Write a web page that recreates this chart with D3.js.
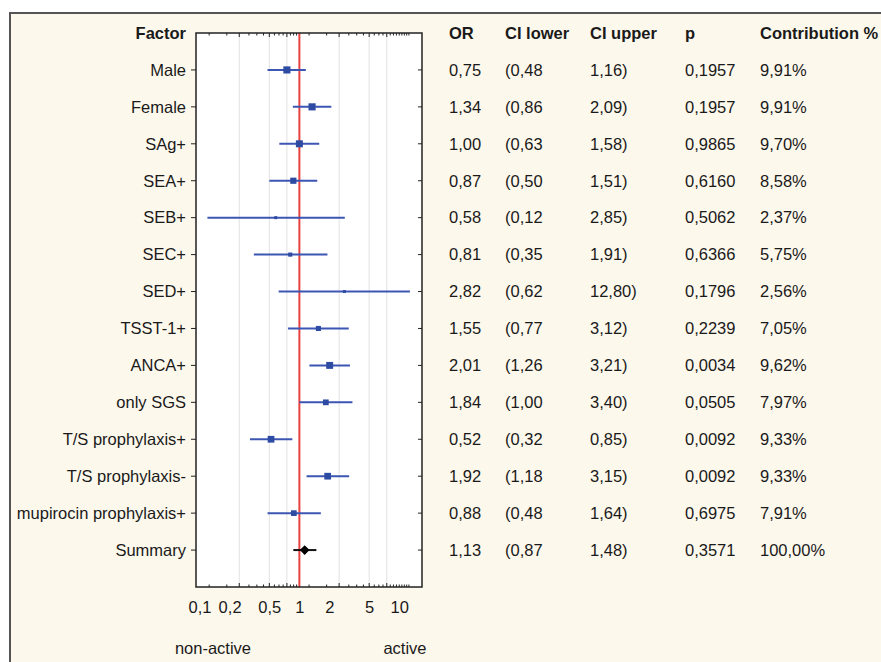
<!DOCTYPE html>
<html>
<head>
<meta charset="utf-8">
<title>Forest plot</title>
<style>
body { margin: 0; background: #fff; }
text { font-family: "Liberation Sans", Arial, sans-serif; font-size: 16.5px; fill: #1a1a1a; }
text.head { font-weight: bold; }
.grid line { stroke: #e2e2e2; stroke-width: 1; }
</style>
</head>
<body>
<svg id="chart" width="881" height="662"></svg>
<script src="https://cdn.jsdelivr.net/npm/d3@7"></script>
<script>

var factors = ["Male", "Female", "SAg+", "SEA+", "SEB+", "SEC+", "SED+", "TSST-1+", "ANCA+",
  "only SGS", "T/S prophylaxis+", "T/S prophylaxis-", "mupirocin prophylaxis+", "Summary"];
var oddsRatio = [0.75, 1.34, 1.00, 0.87, 0.58, 0.81, 2.82, 1.55, 2.01, 1.84, 0.52, 1.92, 0.88, 1.13];
var ciLower = [0.48, 0.86, 0.63, 0.50, 0.12, 0.35, 0.62, 0.77, 1.26, 1.00, 0.32, 1.18, 0.48, 0.87];
var ciUpper = [1.16, 2.09, 1.58, 1.51, 2.85, 1.91, 12.80, 3.12, 3.21, 3.40, 0.85, 3.15, 1.64, 1.48];
var pValues = [0.1957, 0.1957, 0.9865, 0.6160, 0.5062, 0.6366, 0.1796, 0.2239, 0.0034, 0.0505,
  0.0092, 0.0092, 0.6975, 0.3571];
var contribution = [9.91, 9.91, 9.70, 8.58, 2.37, 5.75, 2.56, 7.05, 9.62, 7.97, 9.33, 9.33, 7.91, 100.00];

var axisTicks = [0.1, 0.2, 0.5, 1, 2, 5, 10];
var gridValues = [0.25, 0.5, 0.75, 2.5, 5, 7.5];
var columnHeads = ["OR", "CI lower", "CI upper", "p", "Contribution %"];

var svg = d3.select("#chart");
var loc = d3.formatLocale({decimal: ",", thousands: " ", grouping: [3], currency: ["", ""]});
var f2 = loc.format(".2f"), f4 = loc.format(".4f");

// cream panel with a dark frame on top and left
svg.append("rect").attr("x", 10).attr("y", 13).attr("width", 871).attr("height", 649)
  .attr("fill", "#fdf8ec");
svg.append("path").attr("d", "M10,662V13H881").attr("fill", "none")
  .attr("stroke", "#555").attr("stroke-width", 2);

var plot = {left: 196, right: 422, top: 33, bottom: 587};

var x = d3.scaleLog().domain([0.0922, 16.9]).range([plot.left, plot.right]);
var rows = ["Factor"].concat(factors, [""]);
var y = d3.scalePoint().domain(rows).range([plot.top, plot.bottom]);

svg.append("rect").attr("x", plot.left).attr("y", plot.top)
  .attr("width", plot.right - plot.left).attr("height", plot.bottom - plot.top)
  .attr("fill", "#fff");

svg.append("g").attr("class", "grid").selectAll("line").data(gridValues).join("line")
  .attr("x1", d => x(d)).attr("x2", d => x(d))
  .attr("y1", plot.top).attr("y2", plot.bottom);

// minor ticks, statistica style steps
var minor = d3.range(2, 16).map(k => k * 0.0625).concat(d3.range(2, 21).map(k => k * 0.625));
var tk = svg.append("g").attr("stroke", "#222").attr("stroke-width", 1);
minor.forEach(function (v) {
  var len = gridValues.indexOf(v) >= 0 || v === 0.25 ? 4 : 2.5;
  tk.append("line").attr("x1", x(v)).attr("x2", x(v)).attr("y1", plot.top).attr("y2", plot.top + len);
  tk.append("line").attr("x1", x(v)).attr("x2", x(v)).attr("y1", plot.bottom).attr("y2", plot.bottom - len);
});
factors.forEach(function (f) {
  tk.append("line").attr("x1", plot.left - 5).attr("x2", plot.left).attr("y1", y(f)).attr("y2", y(f));
  tk.append("line").attr("x1", plot.right - 4).attr("x2", plot.right).attr("y1", y(f)).attr("y2", y(f));
});

// reference line at OR = 1
svg.append("line").attr("x1", x(1)).attr("x2", x(1)).attr("y1", plot.top).attr("y2", plot.bottom)
  .attr("stroke", "#e8413f").attr("stroke-width", 2);

var n = factors.length;
var study = d3.range(n - 1), summary = n - 1;

svg.append("g").selectAll("line").data(study).join("line")
  .attr("x1", i => x(ciLower[i])).attr("x2", i => x(ciUpper[i]))
  .attr("y1", i => y(factors[i])).attr("y2", i => y(factors[i]))
  .attr("stroke", "#3c56b3").attr("stroke-width", 2);

svg.append("g").selectAll("rect").data(study).join("rect")
  .each(function (i) {
    var s = Math.max(3, contribution[i] * 0.72);
    d3.select(this).attr("x", x(oddsRatio[i]) - s / 2).attr("y", y(factors[i]) - s / 2)
      .attr("width", s).attr("height", s);
  })
  .attr("fill", "#2e4ba3");

svg.append("line").attr("x1", x(ciLower[summary])).attr("x2", x(ciUpper[summary]))
  .attr("y1", y(factors[summary])).attr("y2", y(factors[summary]))
  .attr("stroke", "#111").attr("stroke-width", 2);
svg.append("path")
  .attr("d", d3.symbol(d3.symbolDiamond2, 60)())
  .attr("transform", "translate(" + x(oddsRatio[summary]) + "," + y(factors[summary]) + ")")
  .attr("fill", "#000");

svg.append("rect").attr("x", plot.left).attr("y", plot.top)
  .attr("width", plot.right - plot.left).attr("height", plot.bottom - plot.top)
  .attr("fill", "none").attr("stroke", "#222").attr("stroke-width", 1.5);

// bottom axis labels
var axis = d3.axisBottom(x).tickValues(axisTicks).tickSize(0).tickPadding(0)
  .tickFormat(d => loc.format("~g")(d));
var ax = svg.append("g").attr("transform", "translate(0," + (plot.bottom + 12) + ")").call(axis);
ax.select(".domain").remove();
ax.selectAll("text").attr("dy", "0.85em").style("font-size", "16.5px")
  .style("font-family", '"Liberation Sans", Arial, sans-serif').attr("fill", "#1a1a1a");

svg.append("text").attr("x", 213).attr("y", 654).attr("text-anchor", "middle").text("non-active");
svg.append("text").attr("x", 405).attr("y", 654).attr("text-anchor", "middle").text("active");

// factor labels
svg.append("text").attr("class", "head").attr("x", 186).attr("y", y("Factor"))
  .attr("dy", "0.35em").attr("text-anchor", "end").text("Factor");
svg.append("g").selectAll("text").data(factors).join("text")
  .attr("x", 186).attr("y", d => y(d)).attr("dy", "0.35em").attr("text-anchor", "end")
  .text(d => d);

// table
var colX = [449, 505, 590, 685, 760];
svg.append("g").selectAll("text").data(columnHeads).join("text")
  .attr("class", "head").attr("x", (d, i) => colX[i]).attr("y", y("Factor"))
  .attr("dy", "0.35em").text(d => d);

var cells = [];
d3.range(n).forEach(function (i) {
  var vals = [f2(oddsRatio[i]), "(" + f2(ciLower[i]), f2(ciUpper[i]) + ")",
    f4(pValues[i]), f2(contribution[i]) + "%"];
  vals.forEach(function (v, c) { cells.push({row: factors[i], col: c, text: v}); });
});
svg.append("g").selectAll("text").data(cells).join("text")
  .attr("x", d => colX[d.col]).attr("y", d => y(d.row)).attr("dy", "0.35em")
  .text(d => d.text);

</script>
</body>
</html>
